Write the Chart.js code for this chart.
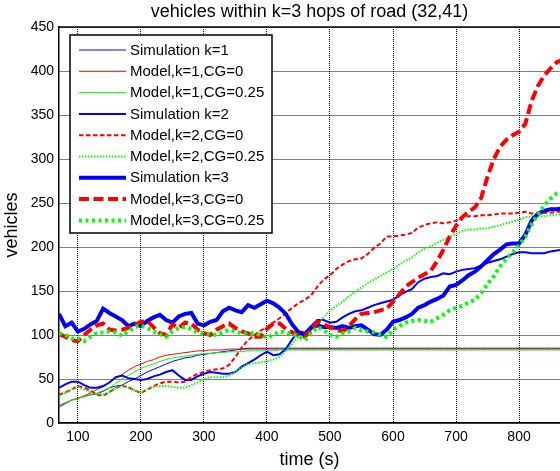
<!DOCTYPE html>
<html>
<head>
<meta charset="utf-8">
<script src="https://cdn.jsdelivr.net/npm/chart.js@4.4.0/dist/chart.umd.min.js"></script>
<style>
html,body{margin:0;padding:0;background:#fff;overflow:hidden}
#wrap{position:relative;width:560px;height:471px}
</style>
</head>
<body>
<div id="wrap"><canvas id="c" width="560" height="471"></canvas></div>
<script>
// ---------- DATA ----------
const chartTitle = "vehicles within k=3 hops of road (32,41)";
const xLabel = "time (s)";
const yLabel = "vehicles";
const xTicks = [100,200,300,400,500,600,700,800];
const yTicks = [0,50,100,150,200,250,300,350,400,450];

const time = [70,80,90,100,110,120,130,140,150,160,170,180,190,200,210,220,230,240,250,260,
270,280,290,300,310,320,330,340,350,360,370,380,390,400,410,420,430,440,450,460,
470,480,490,500,510,520,530,540,550,560,570,580,590,600,610,620,630,640,650,660,
670,680,690,700,710,720,730,740,750,760,770,780,790,800,810,820,830,840,850,860,870];

const simK1 = [18,22,26,28,30,32,33,36,40,42, 43,47,50,54,58,61,64,67,70,72,
74,75,77,78,79,80,81,82,83,84, 85,85,85,85,85,85,85,85,85,85,
85,85,85,85,85,85,85,85,85,85, 85,85,85,85,85,85,85,85,85,85,
85,85,85,85,85,85,85,85,85,85, 85,85,85,85,85,85,85,85,85,85, 85];

const modelK1CG0 = [20,23,26,28,31,34,38,41,46,51, 55,60,64,67,70,72,75,77,78,79,
80,81,82,82,83,83,83,84,84,84, 84,84,84,84,84,84,84,84,84,84,
84,84,84,84,84,84,84,84,84,84, 84,84,84,84,84,84,84,84,84,84,
84,84,84,84,84,84,84,84,84,84, 84,84,84,84,84,84,84,84,84,84, 84];

const modelK1CG025 = [19,23,26,28,30,32,34,37,40,45, 50,54,58,62,65,67,70,72,74,75,
76,77,78,79,79,80,80,81,81,81, 82,82,82,82,82,83,83,83,83,83,
83,83,83,83,83,83,83,83,83,83, 83,83,83,83,83,83,83,83,83,83,
83,83,83,83,83,83,83,83,83,83, 83,83,83,83,83,83,83,83,83,83, 83];

const simK2 = [40,44,47,47,43,40,40,42,46,52, 54,51,50,49,50,53,55,58,60,54,
49,49,53,56,58,57,56,56,58,64, 68,72,77,81,77,78,84,95,104,103,
110,117,117,114,115,120,124,127,128,131, 134,136,138,140,145,149,152,160,164,166,
167,170,169,172,174,175,176,179,182,184, 186,189,192,194,194,193,193,193,195,196, 197];

const modelK2CG0 = [32,35,38,42,40,37,32,31,35,40, 42,41,37,34,38,42,45,47,47,46,
47,52,56,58,60,61,62,66,75,86, 94,100,105,109,114,119,125,131,136,140,
145,155,163,168,175,180,184,186,187,192, 199,204,212,212,213,214,216,222,225,227,
228,227,228,230,234,235,235,236,236,237, 238,238,238,239,240,238,238,239,239,240, 240];

const modelK2CG025 = [30,34,38,41,38,35,33,32,35,40, 42,40,37,35,38,41,42,42,41,40,
40,43,46,50,52,52,52,54,58,63, 67,68,69,70,72,75,82,90,98,105,
108,112,120,128,133,138,144,149,154,159, 163,167,171,175,180,184,188,194,198,201,
205,208,212,215,218,220,220,221,221,223, 225,227,229,231,234,235,235,235,236,237, 237];

const simK3 = [124,110,114,104,107,112,116,130,125,121, 117,110,113,110,116,120,123,117,114,121,
124,125,113,111,115,117,127,131,128,126, 134,131,135,139,136,131,124,112,103,100,
108,111,109,109,108,110,108,110,111,106, 101,100,106,115,117,120,124,131,134,138,
141,145,155,157,162,168,172,178,185,192, 197,203,204,204,214,230,238,241,243,243, 244];

const modelK3CG0 = [101,98,94,93,100,106,111,113,106,105, 106,108,111,115,116,109,102,100,112,108,
114,113,106,102,100,106,110,113,108,104, 102,98,98,107,113,113,107,103,100,98,
105,115,112,109,106,104,110,118,124,125, 126,128,130,138,146,155,160,165,169,173,
184,197,212,224,234,240,245,256,280,300, 314,322,327,331,340,366,383,395,403,410, 413];

const modelK3CG025 = [102,100,96,96,93,98,102,103,104,103, 99,104,109,111,108,104,101,98,104,108,
109,107,103,102,101,100,103,106,104,102, 102,102,100,97,100,104,103,101,99,94,
102,109,106,100,98,102,104,108,105,104, 103,100,98,106,110,114,116,117,116,115,
119,123,128,131,133,137,140,148,158,167, 178,187,194,202,212,226,237,247,255,261, 263];

const seriesLabels = ["Simulation k=1","Model,k=1,CG=0","Model,k=1,CG=0.25",
  "Simulation k=2","Model,k=2,CG=0","Model,k=2,CG=0.25",
  "Simulation k=3","Model,k=3,CG=0","Model,k=3,CG=0.25"];
const seriesValues = [simK1, modelK1CG0, modelK1CG025, simK2, modelK2CG0, modelK2CG025, simK3, modelK3CG0, modelK3CG025];

// ---------- STYLES ----------
const styles = [
  {c:'#0000ff', w:1, d:[]},
  {c:'#ff0000', w:1, d:[]},
  {c:'#00ff00', w:1, d:[]},
  {c:'#0000ff', w:2, d:[]},
  {c:'#ff0000', w:2, d:[4.5,2.5]},
  {c:'#00ff00', w:2, d:[1.5,1.5]},
  {c:'#0000ff', w:4, d:[]},
  {c:'#ff0000', w:4, d:[10,4.5]},
  {c:'#00ff00', w:4, d:[3,3.5]}
];

const FONT = "'Liberation Sans', Arial, Helvetica, sans-serif";

const datasets = seriesValues.map((vals, i) => ({
  label: seriesLabels[i],
  data: time.map((t, j) => ({x: t, y: vals[j]})),
  borderColor: styles[i].c,
  backgroundColor: styles[i].c,
  borderWidth: styles[i].w,
  borderDash: styles[i].d,
  borderCapStyle: 'butt',
  borderJoinStyle: 'miter',
  pointRadius: 0,
  tension: 0,
  fill: false,
  order: seriesValues.length - i
}));

const framePlugin = {
  id: 'frame',
  afterDatasetsDraw(chart) {
    const {ctx, chartArea: a} = chart;
    ctx.save();
    ctx.strokeStyle = '#000';
    ctx.lineWidth = 1.5;
    ctx.beginPath();
    ctx.moveTo(a.left, a.top);
    ctx.lineTo(a.right + 2, a.top);
    ctx.stroke();
    ctx.restore();
  },
  afterDraw(chart) {
    const ctx = chart.ctx;
    const box = {l: 70, t: 35, r: 272, b: 233};
    ctx.save();
    ctx.fillStyle = '#fff';
    ctx.fillRect(box.l, box.t, box.r - box.l, box.b - box.t);
    ctx.strokeStyle = '#000';
    ctx.lineWidth = 1.5;
    ctx.setLineDash([]);
    ctx.strokeRect(box.l, box.t, box.r - box.l, box.b - box.t);
    ctx.font = "15px " + FONT;
    ctx.textBaseline = 'middle';
    ctx.textAlign = 'left';
    chart.data.datasets.forEach((ds, i) => {
      const y = 50 + i * 21.3;
      ctx.strokeStyle = ds.borderColor;
      ctx.lineWidth = ds.borderWidth;
      ctx.setLineDash(ds.borderDash || []);
      ctx.lineCap = 'butt';
      ctx.beginPath();
      ctx.moveTo(79, y);
      ctx.lineTo(126, y);
      ctx.stroke();
      ctx.setLineDash([]);
      ctx.fillStyle = '#000';
      ctx.fillText(ds.label, 130, y + 0.5);
    });
    ctx.restore();
  }
};

new Chart(document.getElementById('c'), {
  type: 'line',
  data: {datasets},
  plugins: [framePlugin],
  options: {
    responsive: false,
    animation: false,
    events: [],
    layout: {padding: 0},
    plugins: {
      legend: {display: false},
      tooltip: {enabled: false},
      title: {
        display: true,
        text: chartTitle,
        fullSize: false,
        color: '#000',
        font: {family: FONT, size: 18, weight: 'normal', lineHeight: 1.2},
        padding: {top: 1.5, bottom: 3.9}
      }
    },
    scales: {
      x: {
        type: 'linear',
        min: 70,
        max: 865,
        afterFit(s) { s.height = 48; },
        afterBuildTicks(s) { s.ticks = xTicks.map(v => ({value: v})); },
        ticks: {color: '#000', font: {family: FONT, size: 14}, padding: 6, maxRotation: 0, includeBounds: false},
        grid: {color: '#000', lineWidth: 1, drawTicks: false},
        border: {display: true, color: '#000', width: 1.5, dash: [1,1]},
        title: {display: true, text: xLabel, color: '#000', font: {family: FONT, size: 18}, padding: {top: 0, bottom: 0}}
      },
      y: {
        type: 'linear',
        min: 0,
        max: 450,
        afterFit(s) { s.width = 59; },
        afterBuildTicks(s) { s.ticks = yTicks.map(v => ({value: v})); },
        ticks: {color: '#000', font: {family: FONT, size: 14}, padding: 5},
        grid: {color: '#000', lineWidth: 1, drawTicks: false},
        border: {display: true, color: '#000', width: 1.5, dash: [1,1]},
        title: {display: true, text: yLabel, color: '#000', font: {family: FONT, size: 18}, padding: {top: 1, bottom: 0}}
      }
    }
  }
});
</script>
</body>
</html>
